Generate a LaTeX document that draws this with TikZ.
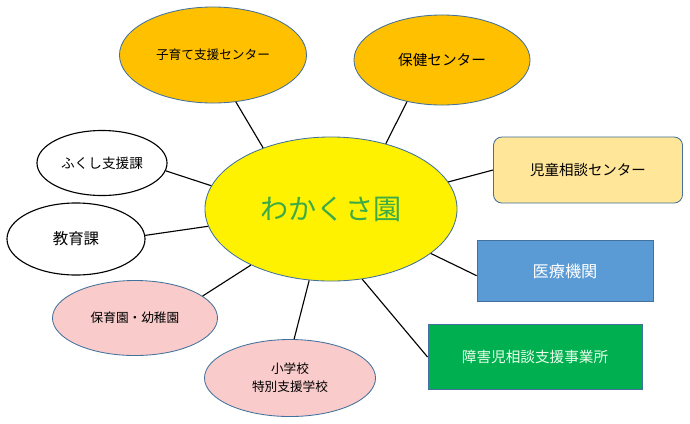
\documentclass[tikz,border=0pt]{standalone}
\usepackage{fontspec}
\setmainfont{Noto Sans CJK JP}
\usetikzlibrary{shapes.geometric}

\definecolor{gold}{HTML}{FFC000}
\definecolor{paleyellow}{HTML}{FFE699}
\definecolor{midblue}{HTML}{5B9BD5}
\definecolor{leafgreen}{HTML}{00B050}
\definecolor{pink}{HTML}{F9CBCB}
\definecolor{outline}{HTML}{41719C}
\definecolor{titlegreen}{HTML}{3CAA46}

\begin{document}
\begin{tikzpicture}[
  x=0.025cm, y=-0.025cm,
  every node/.style={ellipse, draw=outline, semithick, inner sep=0pt,
    font=\fontsize{9}{13}\selectfont},
  plainoval/.style={ellipse, draw=black, thick, fill=white},
  box/.style={rectangle, draw=outline, semithick},
  link/.style={thick}
  ]

  \useasboundingbox (0,0) rectangle (690,423);

  % Define nodes
  \node[fill=yellow, text=titlegreen, minimum width=6.3cm, minimum height=3.6cm,
    font=\fontsize{20}{24}\selectfont] (wakakusa) at (331,209) {わかくさ園};

  \node[fill=gold, minimum width=4.675cm, minimum height=2.4cm] (kosodate) at (213,55) {子育て支援センター};
  \node[fill=gold, minimum width=4.4cm, minimum height=2.25cm,
    font=\fontsize{10.4}{13}\selectfont] (hoken) at (442,60) {保健センター};

  \node[box, rounded corners=6pt, fill=paleyellow, minimum width=4.725cm, minimum height=1.65cm,
    font=\fontsize{10.3}{13}\selectfont] (jidou) at (588,170) {児童相談センター};
  \node[box, fill=midblue, text=white, minimum width=4.4cm, minimum height=1.525cm,
    font=\fontsize{11.5}{14}\selectfont] (iryo) at (565,271) {医療機関};
  \node[box, fill=leafgreen, text=white!92!green, minimum width=5.35cm, minimum height=1.625cm,
    font=\fontsize{10.4}{13}\selectfont] (shogai) at (535,357) {障害児相談支援事業所};

  \node[fill=pink, align=center, minimum width=4.275cm, minimum height=1.925cm] (shogakko) at (290,378) {小学校\\特別支援学校};
  \node[fill=pink, minimum width=4.125cm, minimum height=1.875cm] (hoikuen) at (135,318) {保育園・幼稚園};

  \node[plainoval, minimum width=3.25cm, minimum height=1.625cm,
    font=\fontsize{9.7}{13}\selectfont] (fukushi) at (102,163) {ふくし支援課};
  \node[plainoval, minimum width=3.45cm, minimum height=1.8cm,
    font=\fontsize{11}{14}\selectfont] (kyouiku) at (76,239) {教育課};

  % Connectors to the centre
  \draw[link] (wakakusa.138) -- (kosodate.296);
  \draw[link] (wakakusa.50) -- (hoken.230);
  \draw[link] (wakakusa.13) -- (jidou.west);
  \draw[link] (wakakusa.336) -- (iryo.183);
  \draw[link] (wakakusa.294) -- (shogai.west);
  \draw[link] (wakakusa.253) -- (shogakko.84);
  \draw[link] (wakakusa.215) -- (hoikuen.18);
  \draw[link] (wakakusa.188) -- (kyouiku.3);
  \draw[link] (wakakusa.169) -- (fukushi.353);

\end{tikzpicture}
\end{document}
